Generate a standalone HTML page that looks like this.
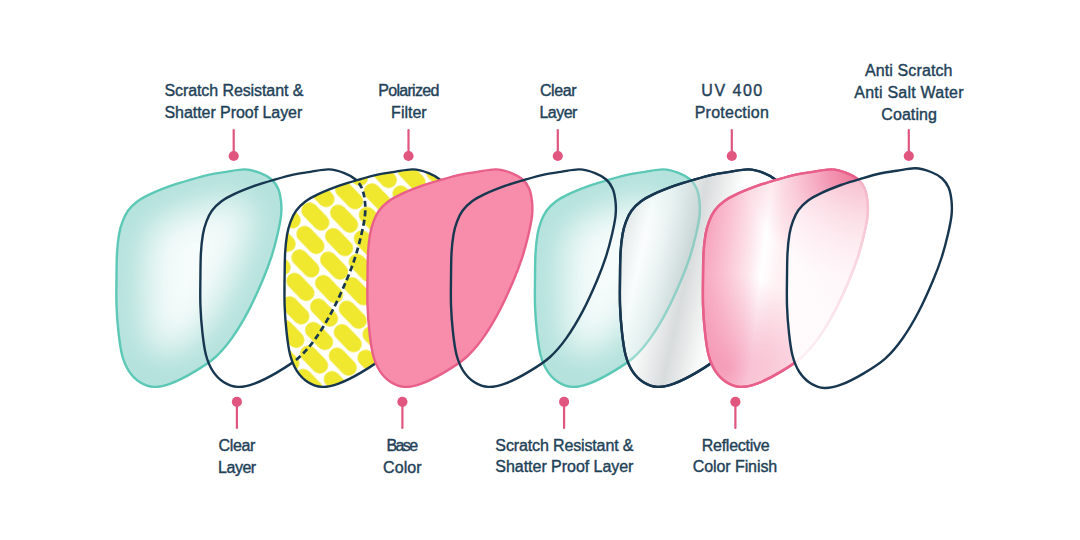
<!DOCTYPE html>
<html><head><meta charset="utf-8">
<style>
html,body{margin:0;padding:0;background:#fff;}
body{width:1080px;height:540px;overflow:hidden;position:relative;font-family:"Liberation Sans",sans-serif;}
svg{position:absolute;left:0;top:0;}
</style></head><body>
<svg width="1080" height="540" viewBox="0 0 1080 540">
<defs>
<path id="lens" d="M 0.0,110.0 C 0.1,101.2 0.1,92.3 0.5,85.0 C 0.9,77.7 1.6,71.3 2.5,66.0 C 3.4,60.7 4.5,57.0 6.0,53.0 C 7.5,49.0 9.0,45.4 11.5,42.0 C 14.0,38.6 17.1,35.5 20.8,32.7 C 24.5,29.9 28.2,27.9 33.7,25.3 C 39.2,22.7 47.2,19.5 54.0,17.0 C 60.8,14.5 68.0,12.4 74.5,10.5 C 81.0,8.6 87.1,6.8 93.0,5.5 C 98.9,4.2 104.1,3.7 110.0,2.8 C 115.9,1.9 122.7,0.1 128.4,0.3 C 134.1,0.5 139.5,2.3 144.0,4.0 C 148.5,5.7 152.2,7.9 155.2,10.5 C 158.1,13.1 160.1,16.1 161.7,19.8 C 163.2,23.5 164.0,28.1 164.5,32.7 C 165.0,37.3 165.1,42.0 164.5,47.5 C 163.9,53.0 162.6,59.1 161.0,66.0 C 159.4,72.9 157.3,81.2 154.8,89.0 C 152.3,96.8 149.8,103.5 146.0,112.5 C 142.2,121.5 137.1,133.2 132.0,143.0 C 126.9,152.8 120.8,163.1 115.2,171.0 C 109.6,178.9 105.0,184.5 98.5,190.3 C 92.0,196.1 83.7,201.2 76.3,205.6 C 68.9,210.0 60.5,214.3 54.0,216.7 C 47.5,219.1 42.5,220.2 37.4,220.0 C 32.3,219.8 27.7,218.0 23.5,215.3 C 19.3,212.6 15.4,208.6 12.4,204.0 C 9.4,199.4 7.2,194.0 5.5,187.5 C 3.8,181.0 2.9,173.3 2.0,165.0 C 1.1,156.7 0.3,146.7 0.0,137.5 C -0.3,128.3 -0.1,118.8 0.0,110.0 Z"/>
<clipPath id="clip7"><use href="#lens" x="620" y="168"/></clipPath>
<clipPath id="clip3"><use href="#lens" x="284.6" y="168"/></clipPath>
<pattern id="pills" width="100" height="100" patternUnits="userSpaceOnUse" patternTransform="matrix(0.28700 0.02200 -0.05000 0.23700 8.950 82.350)"><g fill="#f0e72f" transform="matrix(3.42887 -0.31829 0.72339 4.15226 0 0)"><rect x="-20.00" y="-29.45" width="16.30" height="33.00" rx="8.15" transform="rotate(-44 -11.85 -12.95)"/><rect x="-25.00" y="-5.75" width="16.30" height="33.00" rx="8.15" transform="rotate(-44 -16.85 10.75)"/><rect x="-30.00" y="17.95" width="16.30" height="33.00" rx="8.15" transform="rotate(-44 -21.85 34.45)"/><rect x="-35.00" y="41.65" width="16.30" height="33.00" rx="8.15" transform="rotate(-44 -26.85 58.15)"/><rect x="8.70" y="-27.25" width="16.30" height="33.00" rx="8.15" transform="rotate(-44 16.85 -10.75)"/><rect x="3.70" y="-3.55" width="16.30" height="33.00" rx="8.15" transform="rotate(-44 11.85 12.95)"/><rect x="-1.30" y="20.15" width="16.30" height="33.00" rx="8.15" transform="rotate(-44 6.85 36.65)"/><rect x="-6.30" y="43.85" width="16.30" height="33.00" rx="8.15" transform="rotate(-44 1.85 60.35)"/><rect x="37.40" y="-25.05" width="16.30" height="33.00" rx="8.15" transform="rotate(-44 45.55 -8.55)"/><rect x="32.40" y="-1.35" width="16.30" height="33.00" rx="8.15" transform="rotate(-44 40.55 15.15)"/><rect x="27.40" y="22.35" width="16.30" height="33.00" rx="8.15" transform="rotate(-44 35.55 38.85)"/><rect x="22.40" y="46.05" width="16.30" height="33.00" rx="8.15" transform="rotate(-44 30.55 62.55)"/><rect x="66.10" y="-22.85" width="16.30" height="33.00" rx="8.15" transform="rotate(-44 74.25 -6.35)"/><rect x="61.10" y="0.85" width="16.30" height="33.00" rx="8.15" transform="rotate(-44 69.25 17.35)"/><rect x="56.10" y="24.55" width="16.30" height="33.00" rx="8.15" transform="rotate(-44 64.25 41.05)"/><rect x="51.10" y="48.25" width="16.30" height="33.00" rx="8.15" transform="rotate(-44 59.25 64.75)"/></g></pattern>
<clipPath id="cl"><use href="#lens"/></clipPath>
<filter id="blur" x="-60%" y="-60%" width="220%" height="220%"><feGaussianBlur stdDeviation="20"/></filter>
<g id="teal">
<use href="#lens" fill="#f6fcfb" stroke="none"/>
<g clip-path="url(#cl)"><use href="#lens" fill="none" stroke="#a8ddd7" stroke-width="50" filter="url(#blur)"/></g>
<use href="#lens" fill="none" stroke="#5cc8b6" stroke-width="2.4"/>
</g>
<linearGradient id="gsilver" gradientUnits="userSpaceOnUse" x1="0" y1="0" x2="171" y2="37">
<stop offset="0.03" stop-color="#ced5d5" stop-opacity="0.78"/>
<stop offset="0.22" stop-color="#ffffff" stop-opacity="0.75"/>
<stop offset="0.33" stop-color="#f3f5f5" stop-opacity="0.75"/>
<stop offset="0.50" stop-color="#cfd3d4" stop-opacity="0.8"/>
<stop offset="0.60" stop-color="#e8eaea" stop-opacity="0.87"/>
<stop offset="0.71" stop-color="#ffffff" stop-opacity="0.95"/>
<stop offset="0.88" stop-color="#ffffff" stop-opacity="0.95"/>
<stop offset="1" stop-color="#e2e5e5" stop-opacity="0.9"/>
</linearGradient>
<linearGradient id="gpink" gradientUnits="userSpaceOnUse" x1="0" y1="0" x2="170" y2="20">
<stop offset="0.04" stop-color="#f69fb9"/>
<stop offset="0.20" stop-color="#fac4d3"/>
<stop offset="0.33" stop-color="#fde6ed"/>
<stop offset="0.41" stop-color="#ffffff"/>
<stop offset="0.50" stop-color="#fef2f5"/>
<stop offset="0.72" stop-color="#fde4ec"/>
<stop offset="1" stop-color="#fbd3de"/>
</linearGradient>
<radialGradient id="gpinktr" gradientUnits="userSpaceOnUse" cx="160" cy="0" r="115">
<stop offset="0" stop-color="#ea6089" stop-opacity="0.9"/><stop offset="0.3" stop-color="#ee6d94" stop-opacity="0.65"/><stop offset="0.65" stop-color="#f386a7" stop-opacity="0.3"/><stop offset="1" stop-color="#f386a7" stop-opacity="0"/>
</radialGradient>
<radialGradient id="gpinkbl" gradientUnits="userSpaceOnUse" cx="25" cy="200" r="95">
<stop offset="0" stop-color="#f0709a" stop-opacity="0.55"/><stop offset="1" stop-color="#f0709a" stop-opacity="0"/>
</radialGradient>
<linearGradient id="gwhite" gradientUnits="userSpaceOnUse" x1="0" y1="0" x2="0" y2="220">
<stop offset="0" stop-color="#fff" stop-opacity="0.5"/><stop offset="0.5" stop-color="#fff" stop-opacity="0.78"/><stop offset="1" stop-color="#fff" stop-opacity="0.95"/>
</linearGradient>
</defs>
<g fill="none" stroke-width="2.4" stroke-linejoin="round">
<g transform="translate(0,2.78) scale(1,0.99)">
<use href="#teal" x="116.5" y="168"/>
<use href="#lens" x="200.4" y="168" stroke="#17364f"/>
<use href="#lens" x="284.6" y="168" fill="#fff" stroke="none"/>
<use href="#lens" x="284.6" y="168" fill="url(#pills)" stroke="#17364f"/>
<g clip-path="url(#clip3)"><use href="#lens" x="200.4" y="168" stroke="#17364f" stroke-width="2.7" stroke-dasharray="6 3.6"/></g>
<use href="#lens" x="367.5" y="168" fill="#f78dab" stroke="#e8608a"/>
<use href="#teal" x="535" y="168"/>
<use href="#lens" x="451" y="168" stroke="#17364f"/>
<use href="#lens" x="620" y="168" fill="url(#gsilver)" stroke="#17364f"/>
<g clip-path="url(#clip7)"><use href="#lens" x="535" y="168" stroke="#5cc8b6" stroke-opacity="0.45"/></g>
<use href="#lens" x="620" y="168" stroke="#17364f"/>
<use href="#lens" x="703" y="168" fill="url(#gpink)" stroke="#e8608a"/>
<use href="#lens" x="703" y="168" fill="url(#gpinkbl)" stroke="none"/>
<use href="#lens" x="703" y="168" fill="url(#gpinktr)" stroke="none"/>
<use href="#lens" x="703" y="168" stroke="#e8608a"/>
</g>
<use href="#lens" x="787" y="168" fill="url(#gwhite)" stroke="#17364f"/>
</g>
<g stroke="#e0567f" stroke-width="2.2" stroke-linecap="round" fill="#e0567f">
<path d="M233.7,130V155M408.5,130V155M557.8,130V155M731.8,130V155M908.8,130V155M236.9,402V428M402.4,402V428M564.1,402V428M735.4,402V428"/>
<circle cx="233.7" cy="156" r="5.1" stroke="none"/><circle cx="408.5" cy="156" r="5.1" stroke="none"/><circle cx="557.8" cy="156" r="5.1" stroke="none"/><circle cx="731.8" cy="156" r="5.1" stroke="none"/><circle cx="908.8" cy="156" r="5.1" stroke="none"/><circle cx="236.9" cy="401.8" r="5.1" stroke="none"/><circle cx="402.4" cy="401.8" r="5.1" stroke="none"/><circle cx="564.1" cy="401.8" r="5.1" stroke="none"/><circle cx="735.4" cy="401.8" r="5.1" stroke="none"/>
</g>
<g font-family="'Liberation Sans',sans-serif" font-size="16" fill="#1f4259" stroke="#1f4259" stroke-width="0.4" text-anchor="middle">
<text x="233.9" y="95.6" textLength="139.0">Scratch Resistant &amp;</text>
<text x="233.4" y="118" textLength="137.8">Shatter Proof Layer</text>
<text x="408.8" y="96.0" textLength="61.1">Polarized</text>
<text x="408.9" y="118" textLength="35.6">Filter</text>
<text x="558.3" y="96.0" textLength="36.7">Clear</text>
<text x="558.4" y="118" textLength="37.8">Layer</text>
<text x="731.8" y="96.0" textLength="60.9">UV 400</text>
<text x="731.8" y="118" textLength="74.2">Protection</text>
<text x="908.7" y="75.8" textLength="87.6">Anti Scratch</text>
<text x="908.9" y="97.6" textLength="109.3">Anti Salt Water</text>
<text x="909.1" y="119.8" textLength="55.6">Coating</text>
<text x="236.9" y="451.0" textLength="36.8">Clear</text>
<text x="237.1" y="472.5" textLength="38.1">Layer</text>
<text x="402.3" y="451.0" textLength="31.6">Base</text>
<text x="402.3" y="472.5" textLength="38.4">Color</text>
<text x="564.4" y="450.8" textLength="138.1">Scratch Resistant &amp;</text>
<text x="564.4" y="472.2" textLength="138.1">Shatter Proof Layer</text>
<text x="735.7" y="450.8" textLength="68.1">Reflective</text>
<text x="735.0" y="472.2" textLength="84.4">Color Finish</text>
</g>
</svg>
</body></html>
